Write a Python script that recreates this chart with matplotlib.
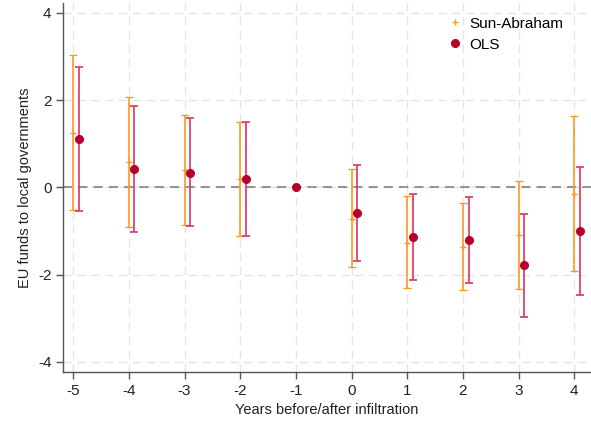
'''
Event-study plot: EU funds to local governments, Sun-Abraham vs OLS
'''

import numpy as np
import matplotlib
matplotlib.use('Agg')
import matplotlib.pyplot as plt
from matplotlib.lines import Line2D

plt.rcParams['font.family'] = ['Liberation Sans', 'DejaVu Sans']

years = [-5, -4, -3, -2, -1, 0, 1, 2, 3, 4]

# Sun-Abraham estimates (no estimate at the reference year -1)
sa_years = [-5, -4, -3, -2, 0, 1, 2, 3, 4]
sa_coef = [1.25, 0.58, 0.39, 0.18, -0.72, -1.27, -1.37, -1.09, -0.15]
sa_low = [-0.53, -0.91, -0.87, -1.12, -1.83, -2.32, -2.36, -2.34, -1.93]
sa_high = [3.03, 2.07, 1.65, 1.49, 0.41, -0.21, -0.36, 0.14, 1.64]

# OLS estimates
ols_coef = [1.10, 0.43, 0.33, 0.18, 0.0, -0.59, -1.14, -1.20, -1.79, -1.00]
ols_low = [-0.54, -1.03, -0.89, -1.12, 0.0, -1.68, -2.12, -2.19, -2.97, -2.46]
ols_high = [2.76, 1.87, 1.58, 1.49, 0.0, 0.52, -0.15, -0.22, -0.61, 0.47]

orange = '#ff9a1f'
red_bar = '#d93560'
red_dot = '#b8002b'


def plot_event_study():
    '''
    Draw both series with their confidence intervals
    '''
    fig = plt.figure(figsize=(5.91, 4.21), dpi=100)
    ax = fig.add_axes([0.107, 0.117, 0.893, 0.876])

    sa_x = np.array(sa_years, dtype=float)
    sa_c = np.array(sa_coef)
    ax.errorbar(sa_x, sa_c,
                yerr=[sa_c - np.array(sa_low), np.array(sa_high) - sa_c],
                fmt='+', color=orange, ecolor=orange, elinewidth=1.2,
                capsize=3, capthick=1.2, markersize=5, mew=1, zorder=3)

    ols_x = np.array(years, dtype=float) + 0.1
    ols_x[years.index(-1)] = -1
    ols_c = np.array(ols_coef)
    ax.errorbar(ols_x, ols_c,
                yerr=[ols_c - np.array(ols_low), np.array(ols_high) - ols_c],
                fmt='o', color=red_dot, ecolor=red_bar, elinewidth=1.2,
                capsize=3, capthick=1.2, markersize=5.5, zorder=4)

    ax.axhline(0, color='#777777', linestyle=(0, (6, 4)), linewidth=1.1,
               zorder=2)

    ax.set_xlim(-5.18, 4.3)
    ax.set_ylim(-4.23, 4.23)
    ax.set_xticks(years)
    ax.set_xticklabels([str(y) for y in years])
    ax.set_yticks([-4, -2, 0, 2, 4])
    ax.set_yticklabels(['-4', '-2', '0', '2', '4'])

    ax.grid(True, color='#e4e4e4', linestyle=(0, (6, 4)), linewidth=1)
    ax.set_axisbelow(True)
    for side in ['top', 'right']:
        ax.spines[side].set_visible(False)
    for side in ['left', 'bottom']:
        ax.spines[side].set_color('#555555')
        ax.spines[side].set_linewidth(1)
    ax.tick_params(axis='both', colors='#555555', labelcolor='#222222',
                   labelsize=11, length=5, width=1)

    ax.set_xlabel('Years before/after infiltration', fontsize=10.5,
                  color='#222222')
    ax.set_ylabel('EU funds to local governments', fontsize=10.5,
                  color='#222222')

    handles = [
        Line2D([], [], linestyle='none', marker='+', color=orange,
               markersize=4.5, mew=1),
        Line2D([], [], linestyle='none', marker='o', color=red_dot,
               markersize=5.5),
    ]
    ax.legend(handles, ['Sun-Abraham', 'OLS'], loc='upper left',
              bbox_to_anchor=(0.705, 1.0), frameon=False, fontsize=11,
              handlelength=0.8, handletextpad=0.5, labelspacing=0.45)

    fig.savefig('out.png', dpi=100)


plot_event_study()
